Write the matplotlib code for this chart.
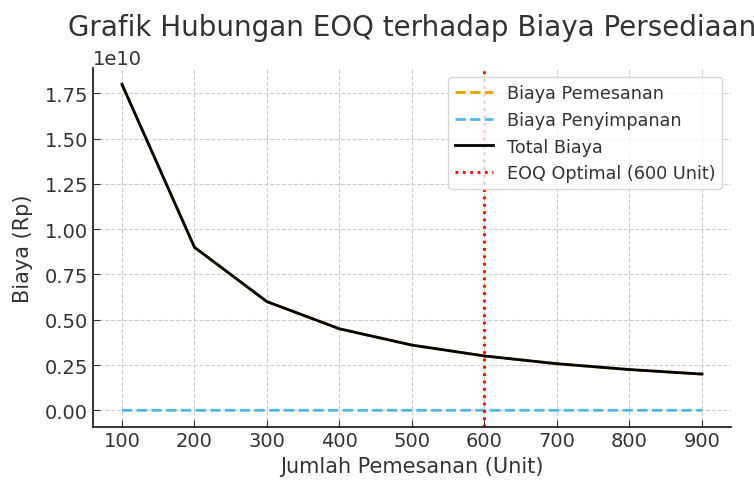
import matplotlib
matplotlib.use("Agg")
import matplotlib.pyplot as plt

# data
jumlah_pesan = [100, 200, 300, 400, 500, 600, 700, 800, 900]
biaya_pemesanan = [1.8e10, 9.0e9, 6.0e9, 4.5e9, 3.6e9, 3.0e9, 2.571e9, 2.25e9, 2.0e9]
biaya_penyimpanan = [5.0e4, 1.0e5, 1.5e5, 2.0e5, 2.5e5, 3.0e5, 3.5e5, 4.0e5, 4.5e5]
total_biaya = [a + b for a, b in zip(biaya_pemesanan, biaya_penyimpanan)]
eoq = 600

txt = "#333333"
plt.rcParams['font.family'] = ['DejaVu Sans']
plt.rcParams['text.color'] = txt
plt.rcParams['axes.labelcolor'] = txt
plt.rcParams['xtick.color'] = txt
plt.rcParams['ytick.color'] = txt

fig = plt.figure(figsize=(7.54, 4.81), dpi=100)
ax = fig.add_subplot(111)
fig.subplots_adjust(left=0.1233, right=0.9695, top=0.8565, bottom=0.111)

ax.plot(jumlah_pesan, biaya_pemesanan, '--', color='#E69F00', lw=2, label='Biaya Pemesanan')
ax.plot(jumlah_pesan, biaya_penyimpanan, '--', color='#56B4E9', lw=2, label='Biaya Penyimpanan')
ax.plot(jumlah_pesan, total_biaya, '-', color='black', lw=2, label='Total Biaya')
ax.axvline(eoq, color='red', linestyle=':', lw=2, label='EOQ Optimal (600 Unit)')

# title is wider than the figure in the original too
ax.set_title('Grafik Hubungan EOQ terhadap Biaya Persediaan', fontsize=20, color=txt, pad=24)
ax.set_xlabel('Jumlah Pemesanan (Unit)', fontsize=15)
ax.set_ylabel('Biaya (Rp)', fontsize=15, labelpad=8)
ax.set_xticks(jumlah_pesan)
ax.tick_params(axis='both', labelsize=14, direction='in', length=5)
ax.yaxis.get_offset_text().set_fontsize(14)

ax.grid(True, linestyle='--', color='#cccccc', lw=0.8)
ax.spines['top'].set_visible(False)
ax.spines['right'].set_visible(False)
for s in ['left', 'bottom']:
    ax.spines[s].set_linewidth(1.3)
    ax.spines[s].set_color('#222222')

leg = ax.legend(loc='upper right', fontsize=12.7, frameon=True, labelspacing=0.5,
                handlelength=2.1, borderaxespad=0.5)
leg.get_frame().set_edgecolor('#cccccc')

fig.savefig('out.png', dpi=100)
